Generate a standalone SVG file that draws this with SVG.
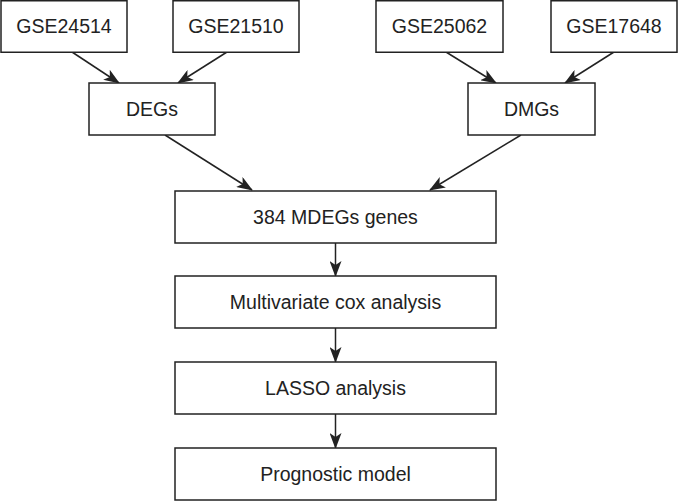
<svg xmlns="http://www.w3.org/2000/svg" width="678" height="502" viewBox="0 0 678 502">
<style>
.box{fill:#fff;stroke:#222;stroke-width:1.5}
.lbl{font-family:"Liberation Sans",Arial,sans-serif;font-size:19.5px;fill:#222;text-anchor:middle;dominant-baseline:central}
.con{stroke:#222;stroke-width:1.5;fill:none;marker-end:url(#ah)}
</style>
<defs>
<marker id="ah" viewBox="0 0 16 12" refX="15" refY="6" markerWidth="16" markerHeight="12" markerUnits="userSpaceOnUse" orient="auto">
<path d="M0,0 L16,6 L0,12 L4,6 Z" fill="#222"/>
</marker>
</defs>
<rect width="678" height="502" fill="#fff"/>
<g id="connectors">
<line class="con" x1="72" y1="52" x2="119" y2="83"/>
<line class="con" x1="227" y1="52" x2="178" y2="83"/>
<line class="con" x1="446" y1="52" x2="496" y2="83"/>
<line class="con" x1="614" y1="52" x2="565" y2="83"/>
<line class="con" x1="165" y1="135" x2="252" y2="190"/>
<line class="con" x1="521" y1="135" x2="430" y2="190"/>
<line class="con" x1="335.5" y1="243" x2="335.5" y2="276"/>
<line class="con" x1="335.5" y1="328" x2="335.5" y2="362"/>
<line class="con" x1="335.5" y1="414" x2="335.5" y2="448"/>
</g>
<g id="gse24514"><rect class="box" x="1" y="0.75" width="126" height="51.5"/><text class="lbl" x="64" y="26">GSE24514</text></g>
<g id="gse21510"><rect class="box" x="173" y="0.75" width="126" height="51.5"/><text class="lbl" x="236" y="26">GSE21510</text></g>
<g id="gse25062"><rect class="box" x="376" y="0.75" width="127" height="51.5"/><text class="lbl" x="439.5" y="26">GSE25062</text></g>
<g id="gse17648"><rect class="box" x="551" y="0.75" width="126" height="51.5"/><text class="lbl" x="614" y="26">GSE17648</text></g>
<g id="degs"><rect class="box" x="89" y="83" width="126" height="52"/><text class="lbl" x="152" y="109">DEGs</text></g>
<g id="dmgs"><rect class="box" x="468" y="83" width="127" height="52"/><text class="lbl" x="531.5" y="109">DMGs</text></g>
<g id="mdegs"><rect class="box" x="175" y="191" width="321" height="52"/><text class="lbl" x="335.5" y="217">384 MDEGs genes</text></g>
<g id="cox"><rect class="box" x="175" y="276" width="321" height="52"/><text class="lbl" x="335.5" y="302">Multivariate cox analysis</text></g>
<g id="lasso"><rect class="box" x="175" y="362" width="321" height="52"/><text class="lbl" x="335.5" y="388">LASSO analysis</text></g>
<g id="model"><rect class="box" x="175" y="448" width="321" height="52"/><text class="lbl" x="335.5" y="474">Prognostic model</text></g>
</svg>
